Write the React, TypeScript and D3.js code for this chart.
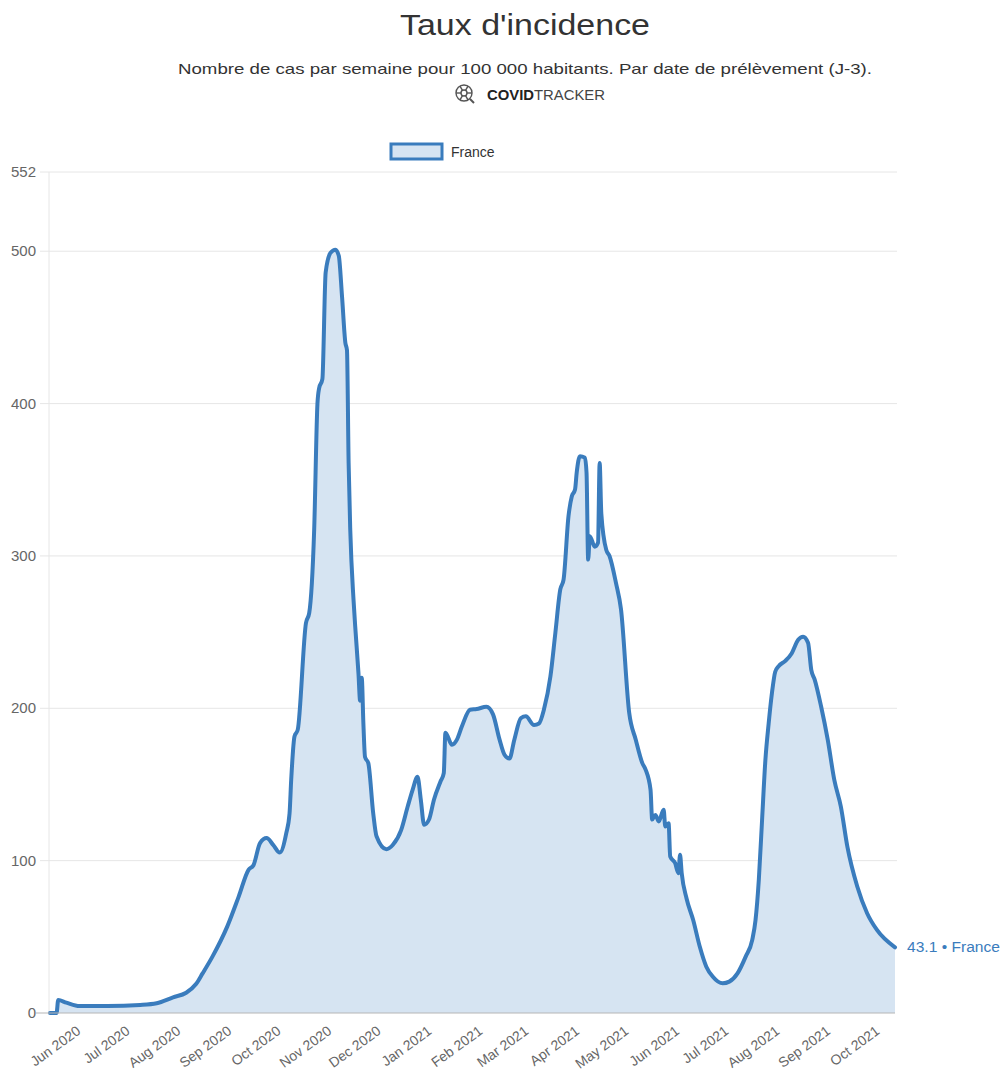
import React from "react";
import * as d3 from "d3";

const dates: string[] = [
  "2020-05-14","2020-05-18","2020-05-19","2020-05-24","2020-06-01","2020-06-18","2020-07-08","2020-07-18","2020-07-28","2020-08-05",
  "2020-08-11","2020-08-15","2020-08-21","2020-08-30","2020-09-06","2020-09-12","2020-09-15","2020-09-19","2020-09-23","2020-09-27",
  "2020-10-01","2020-10-05","2020-10-07","2020-10-08","2020-10-10","2020-10-12","2020-10-17","2020-10-19","2020-10-22","2020-10-24",
  "2020-10-25","2020-10-27","2020-10-29","2020-11-01","2020-11-04","2020-11-06","2020-11-08","2020-11-10","2020-11-11","2020-11-12",
  "2020-11-13","2020-11-15","2020-11-16","2020-11-18","2020-11-19","2020-11-20","2020-11-21","2020-11-22","2020-11-24","2020-11-27",
  "2020-11-29","2020-12-05","2020-12-09","2020-12-14","2020-12-18","2020-12-21","2020-12-24","2020-12-26","2020-12-28","2020-12-31",
  "2021-01-03","2021-01-07","2021-01-09","2021-01-10","2021-01-14","2021-01-17","2021-01-20","2021-01-25","2021-01-29","2021-02-04",
  "2021-02-08","2021-02-12","2021-02-15","2021-02-18","2021-02-21","2021-02-25","2021-02-28","2021-03-05","2021-03-08","2021-03-11",
  "2021-03-15","2021-03-18","2021-03-21","2021-03-23","2021-03-26","2021-03-28","2021-03-30","2021-03-31","2021-04-02","2021-04-05",
  "2021-04-06","2021-04-07","2021-04-08","2021-04-11","2021-04-13","2021-04-14","2021-04-15","2021-04-18","2021-04-20","2021-04-24",
  "2021-04-27","2021-05-02","2021-05-06","2021-05-10","2021-05-12","2021-05-15","2021-05-16","2021-05-18","2021-05-20","2021-05-23",
  "2021-05-24","2021-05-26","2021-05-27","2021-05-30","2021-06-01","2021-06-02","2021-06-03","2021-06-06","2021-06-10","2021-06-14",
  "2021-06-18","2021-06-22","2021-06-28","2021-07-02","2021-07-07","2021-07-12","2021-07-16","2021-07-18","2021-07-20","2021-07-22",
  "2021-07-24","2021-07-26","2021-07-28","2021-07-30","2021-08-01","2021-08-05","2021-08-09","2021-08-13","2021-08-16","2021-08-19",
  "2021-08-21","2021-08-23","2021-08-27","2021-08-31","2021-09-04","2021-09-08","2021-09-12","2021-09-18","2021-09-24","2021-09-30",
  "2021-10-11",
];

const incidence: number[] = [
  0, 0, 8.5, 6.8, 4.6, 4.6, 5.3, 6.4, 10.3, 13.3,
  19, 26, 37, 56.7, 76.4, 94, 97, 111.5, 114.8, 110.4,
  105.3, 118, 131, 153, 181.5, 186, 256, 262.6, 317, 400,
  410, 416, 486, 499, 501, 497, 470, 440, 435, 361,
  317, 271, 254, 223, 205, 220, 190, 168, 164, 131,
  116, 107.5, 110.4, 120, 135.5, 146.5, 155, 140, 123.5, 127,
  140, 152, 157.5, 184, 176, 179.4, 188, 199, 199.5, 201,
  196, 179.4, 169.5, 167, 179.4, 193.6, 194.7, 189, 190, 199,
  221, 249.5, 278, 284.5, 326, 339, 343.6, 354.6, 365.5, 364.5,
  354.6, 297.6, 313, 306, 308.6, 361, 328, 304, 300, 282,
  265, 197, 179.4, 164, 159.7, 146.5, 127, 130, 125.7, 133.4,
  122.4, 124.6, 102.7, 98.4, 91.8, 103.8, 91.8, 75, 61, 43.6,
  30.4, 23.8, 19.5, 20.6, 26, 37, 48, 61, 87.4, 127,
  166, 190, 210, 224, 227.5, 231, 236, 245, 247, 243,
  225, 219, 201, 179.4, 153, 135.5, 109, 83, 65.5, 54.5,
  43.1,
];

const yTicks: number[] = [0, 100, 200, 300, 400, 500, 552];
const seriesName = "France";
const title = "Taux d'incidence";
const subtitle = "Nombre de cas par semaine pour 100 000 habitants. Par date de prélèvement (J-3).";

const W = 1004;
const H = 1074;
const LEFT = 50;
const RIGHT = 895;
const TOP = 172;
const BOTTOM = 1013;
const LINE = "#3a7cbd";
const FILL = "#d6e4f2";
const FONT = "'Liberation Sans', Arial, Helvetica, sans-serif";

export default function App() {
  const parsed = dates.map((d, i) => ({ date: new Date(d + "T00:00:00Z"), value: incidence[i] }));
  const x = d3
    .scaleUtc()
    .domain([parsed[0].date, parsed[parsed.length - 1].date])
    .range([LEFT, RIGHT]);
  const y = d3.scaleLinear().domain([0, 552]).range([BOTTOM, TOP]);

  const line = d3
    .line<{ date: Date; value: number }>()
    .x((d) => x(d.date))
    .y((d) => y(d.value))
    .curve(d3.curveMonotoneX);
  const area = d3
    .area<{ date: Date; value: number }>()
    .x((d) => x(d.date))
    .y0(y(0))
    .y1((d) => y(d.value))
    .curve(d3.curveMonotoneX);

  const months = d3.utcMonth.range(new Date("2020-06-01T00:00:00Z"), new Date("2021-10-02T00:00:00Z"));
  const fmt = d3.utcFormat("%b %Y");
  const last = parsed[parsed.length - 1];

  return (
    <svg
      width={W}
      height={H}
      style={{ position: "absolute", left: 0, top: 0, background: "#fff" }}
      fontFamily={FONT}
    >
      <rect x={0} y={0} width={W} height={H} fill="#fff" />
      {/* title */}
      <text x={525} y={35} textAnchor="middle" fontSize={30} fill="#333" textLength={250} lengthAdjust="spacingAndGlyphs">
        {title}
      </text>
      <text x={525} y={74} textAnchor="middle" fontSize={15} fill="#333" textLength={694} lengthAdjust="spacingAndGlyphs">
        {subtitle}
      </text>
      {/* logo */}
      <g transform="translate(464,93)" stroke="#555" fill="none" strokeWidth={1.4}>
        <circle r={8} />
        <circle r={3} />
        {[0, 60, 120, 180, 240, 300].map((a) => (
          <line
            key={a}
            x1={3 * Math.cos((a * Math.PI) / 180)}
            y1={3 * Math.sin((a * Math.PI) / 180)}
            x2={8 * Math.cos((a * Math.PI) / 180)}
            y2={8 * Math.sin((a * Math.PI) / 180)}
          />
        ))}
        <line x1={6} y1={6} x2={10} y2={10} strokeWidth={2} />
      </g>
      <text x={487} y={100} fontSize={14} fill="#222" textLength={118} lengthAdjust="spacingAndGlyphs">
        <tspan fontWeight="bold">COVID</tspan>
        <tspan fill="#444">TRACKER</tspan>
      </text>
      {/* legend */}
      <rect x={391} y={144} width={51} height={15} fill={FILL} stroke={LINE} strokeWidth={3} />
      <text x={451} y={157} fontSize={14} fill="#333">
        {seriesName}
      </text>

      {/* grid */}
      {yTicks.map((t) => (
        <g key={t}>
          {t !== 0 && (
            <line x1={40} x2={RIGHT + 2} y1={y(t)} y2={y(t)} stroke="#e6e6e6" strokeWidth={1} />
          )}
          <text x={36} y={y(t) + 5} textAnchor="end" fontSize={15} fill="#666">
            {t}
          </text>
        </g>
      ))}
      <line x1={LEFT - 1} x2={LEFT - 1} y1={TOP} y2={BOTTOM} stroke="#e6e6e6" strokeWidth={1} />

      {/* series */}
      <path d={area(parsed) || ""} fill={FILL} stroke="none" />
      <path d={line(parsed) || ""} fill="none" stroke={LINE} strokeWidth={4} strokeLinejoin="round" strokeLinecap="round" />

      {/* x axis */}
      <line x1={36} x2={RIGHT} y1={BOTTOM} y2={BOTTOM} stroke="#b5b5b5" strokeWidth={1.2} />
      {months.map((m) => (
        <text
          key={m.toISOString()}
          transform={`translate(${x(m) + 2},${BOTTOM + 20}) rotate(-36)`}
          textAnchor="end"
          fontSize={14}
          fill="#666"
        >
          {fmt(m)}
        </text>
      ))}

      {/* end label */}
      <text x={907} y={y(last.value) + 5} fontSize={14} fill={LINE} textLength={93} lengthAdjust="spacingAndGlyphs">
        {`${last.value} • ${seriesName}`}
      </text>
    </svg>
  );
}
